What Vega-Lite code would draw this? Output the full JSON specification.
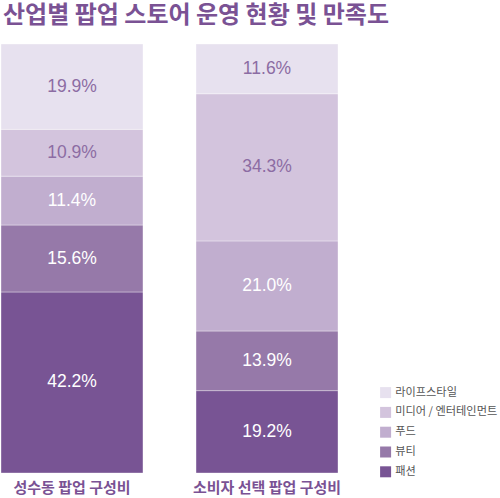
{
  "$schema": "https://vega.github.io/schema/vega-lite/v6.json",
  "width": 337,
  "height": 429,
  "padding": {"top": 3, "left": 0, "right": 0, "bottom": 0},
  "title": {
    "text": "산업별 팝업 스토어 운영 현황 및 만족도",
    "anchor": "start",
    "frame": "group",
    "font": "Noto Sans CJK KR",
    "fontSize": 24,
    "fontWeight": "bold",
    "color": "#7a5294",
    "offset": 16,
    "dx": 2
  },
  "config": {"view": {"stroke": null}},
  "data": {
    "values": [
      {"group": "성수동 팝업 구성비", "industry": "패션", "share": 42.2},
      {"group": "성수동 팝업 구성비", "industry": "뷰티", "share": 15.6},
      {"group": "성수동 팝업 구성비", "industry": "푸드", "share": 11.4},
      {"group": "성수동 팝업 구성비", "industry": "미디어 / 엔터테인먼트", "share": 10.9},
      {"group": "성수동 팝업 구성비", "industry": "라이프스타일", "share": 19.9},
      {"group": "소비자 선택 팝업 구성비", "industry": "패션", "share": 19.2},
      {"group": "소비자 선택 팝업 구성비", "industry": "뷰티", "share": 13.9},
      {"group": "소비자 선택 팝업 구성비", "industry": "푸드", "share": 21.0},
      {"group": "소비자 선택 팝업 구성비", "industry": "미디어 / 엔터테인먼트", "share": 34.3},
      {"group": "소비자 선택 팝업 구성비", "industry": "라이프스타일", "share": 11.6}
    ]
  },
  "transform": [
    {"calculate": "indexof(['패션', '뷰티', '푸드', '미디어 / 엔터테인먼트', '라이프스타일'], datum.industry)", "as": "ord"},
    {"stack": "share", "groupby": ["group"], "sort": [{"field": "ord", "order": "ascending"}], "offset": "normalize", "as": ["y0", "y1"]},
    {"calculate": "(datum.y0 + datum.y1) / 2", "as": "mid"},
    {"calculate": "format(datum.share, '.1f') + '%'", "as": "label"}
  ],
  "encoding": {
    "x": {
      "field": "group",
      "type": "nominal",
      "sort": null,
      "scale": {"paddingInner": 0.272, "paddingOuter": 0},
      "axis": {
        "title": null,
        "domain": false,
        "ticks": false,
        "labelAngle": 0,
        "labelPadding": 7,
        "labelFont": "Noto Sans CJK KR",
        "labelFontSize": 15,
        "labelFontWeight": "bold",
        "labelColor": "#7a5294"
      }
    }
  },
  "layer": [
    {
      "mark": {"type": "bar", "stroke": "#ffffff", "strokeWidth": 0.6, "strokeOpacity": 0.6},
      "encoding": {
        "y": {"field": "y0", "type": "quantitative", "scale": {"domain": [0, 1], "nice": false}, "axis": null},
        "y2": {"field": "y1"},
        "color": {
          "field": "industry",
          "type": "nominal",
          "scale": {
            "domain": ["라이프스타일", "미디어 / 엔터테인먼트", "푸드", "뷰티", "패션"],
            "range": ["#e7e1ef", "#d3c4dd", "#c1aecf", "#9679a9", "#785494"]
          },
          "legend": {
            "title": null,
            "orient": "none",
            "legendX": 379,
            "legendY": 343,
            "symbolType": "square",
            "symbolSize": 121,
            "symbolStrokeWidth": 0,
            "symbolOpacity": 1,
            "labelFont": "Noto Sans CJK KR",
            "labelFontSize": 11.2,
            "labelColor": "#555555",
            "labelOffset": 4,
            "labelLimit": 200,
            "rowPadding": 6.8
          }
        }
      }
    },
    {
      "mark": {"type": "text", "font": "Liberation Sans", "fontSize": 17.5, "baseline": "middle", "align": "center"},
      "encoding": {
        "y": {"field": "mid", "type": "quantitative"},
        "text": {"field": "label", "type": "nominal"},
        "color": {
          "condition": {"test": "datum.industry === '라이프스타일' || datum.industry === '미디어 / 엔터테인먼트'", "value": "#8c6ca3"},
          "value": "#ffffff"
        }
      }
    }
  ]
}
